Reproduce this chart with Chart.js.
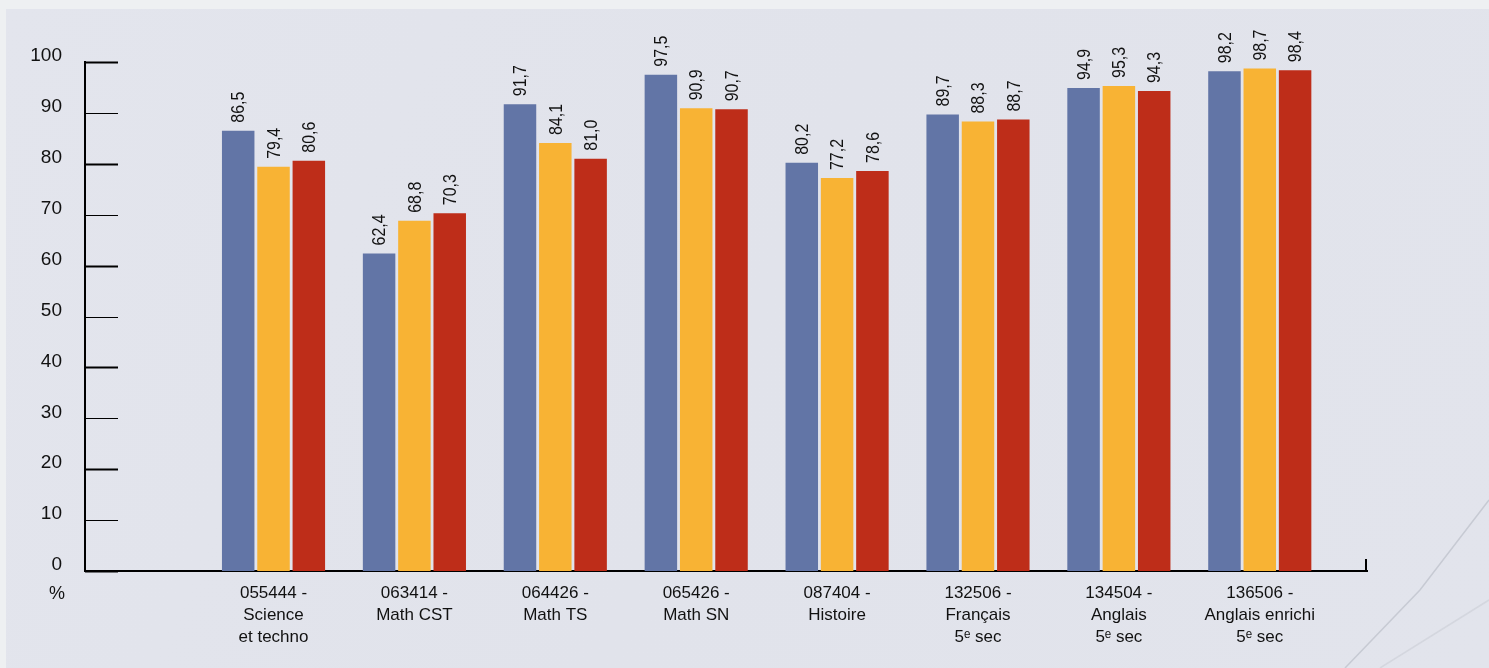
<!DOCTYPE html>
<html>
<head>
<meta charset="utf-8">
<script src="https://cdn.jsdelivr.net/npm/chart.js@4/dist/chart.umd.min.js"></script>
<style>
  html, body { margin: 0; padding: 0; background: #eceef1; overflow: hidden; }
  canvas { display: block; }
</style>
</head>
<body>
<canvas id="c" width="1489" height="668"></canvas>
<script>
// ---- Data ----
const categories = [
  ["055444 -", "Science", "et techno"],
  ["063414 -", "Math CST"],
  ["064426 -", "Math TS"],
  ["065426 -", "Math SN"],
  ["087404 -", "Histoire"],
  ["132506 -", "Français", "5ᵉ sec"],
  ["134504 -", "Anglais", "5ᵉ sec"],
  ["136506 -", "Anglais enrichi", "5ᵉ sec"]
];
const seriesBlue   = [86.5, 62.4, 91.7, 97.5, 80.2, 89.7, 94.9, 98.2];
const seriesOrange = [79.4, 68.8, 84.1, 90.9, 77.2, 88.3, 95.3, 98.7];
const seriesRed    = [80.6, 70.3, 81.0, 90.7, 78.6, 88.7, 94.3, 98.4];
const yTicks = [0, 10, 20, 30, 40, 50, 60, 70, 80, 90, 100];
const unitLabel = "%";

// ---- Styles ----
const FONT = "'Liberation Sans Narrow', 'Arial Narrow', 'Liberation Sans', Arial, sans-serif";
const colors = ["#6275a6", "#f8b334", "#be2d19"];

const toPoints = arr => arr.map((v, i) => ({ x: i, y: v }));

const bgPlugin = {
  id: 'bg',
  beforeDraw(chart) {
    const { ctx, width, height } = chart;
    ctx.save();
    ctx.fillStyle = '#eef0f2';
    ctx.fillRect(0, 0, width, height);
    const g = ctx.createLinearGradient(0, 0, width, height);
    g.addColorStop(0, '#e3e5ed');
    g.addColorStop(0.5, '#e1e3eb');
    g.addColorStop(1, '#e2e4ec');
    ctx.fillStyle = g;
    ctx.fillRect(6, 9, width - 6, height - 9);
    ctx.strokeStyle = 'rgba(150,155,165,0.35)';
    ctx.lineWidth = 1.5;
    ctx.beginPath();
    ctx.moveTo(1345, 668); ctx.lineTo(1420, 590); ctx.lineTo(1489, 500);
    ctx.stroke();
    ctx.strokeStyle = 'rgba(170,175,185,0.25)';
    ctx.beginPath();
    ctx.moveTo(1380, 668); ctx.lineTo(1489, 600);
    ctx.stroke();
    ctx.restore();
  }
};

const axisPlugin = {
  id: 'axisDecor',
  afterDraw(chart) {
    const { ctx } = chart;
    const y = chart.scales.y, x = chart.scales.x;
    ctx.save();
    ctx.strokeStyle = '#000';
    yTicks.forEach(v => {
      const py = Math.round(y.getPixelForValue(v)) + 0.5;
      ctx.lineWidth = (v % 20 === 0) ? 2.2 : 1.2;
      ctx.beginPath();
      ctx.moveTo(x.left, py);
      ctx.lineTo(x.left + 33, py);
      ctx.stroke();
    });
    const by = y.getPixelForValue(0);
    ctx.lineWidth = 2;
    ctx.beginPath();
    ctx.moveTo(x.right - 1, by + 1);
    ctx.lineTo(x.right - 1, by - 12);
    ctx.stroke();
    ctx.fillStyle = '#111';
    ctx.font = '18px ' + FONT;
    ctx.textAlign = 'right';
    ctx.textBaseline = 'middle';
    ctx.fillText(unitLabel, y.right - 20, by + 23);
    ctx.restore();
  }
};

const valueLabelPlugin = {
  id: 'valueLabels',
  afterDatasetsDraw(chart) {
    const { ctx } = chart;
    ctx.save();
    ctx.fillStyle = '#111';
    ctx.font = '19px ' + FONT;
    ctx.textAlign = 'left';
    ctx.textBaseline = 'middle';
    chart.data.datasets.forEach((ds, di) => {
      const meta = chart.getDatasetMeta(di);
      meta.data.forEach((bar, i) => {
        const txt = ds.data[i].y.toFixed(1).replace('.', ',');
        ctx.save();
        ctx.translate(bar.x + 1, bar.y - 8);
        ctx.rotate(-Math.PI / 2);
        ctx.scale(0.84, 1);
        ctx.fillText(txt, 0, 0);
        ctx.restore();
      });
    });
    ctx.restore();
  }
};

new Chart(document.getElementById('c'), {
  type: 'bar',
  data: {
    datasets: [
      { data: toPoints(seriesBlue), backgroundColor: colors[0] },
      { data: toPoints(seriesOrange), backgroundColor: colors[1] },
      { data: toPoints(seriesRed), backgroundColor: colors[2] }
    ]
  },
  options: {
    responsive: false,
    animation: false,
    devicePixelRatio: 1,
    layout: { padding: { left: 0, top: 62, right: 122, bottom: 0 } },
    plugins: { legend: { display: false }, tooltip: { enabled: false } },
    datasets: { bar: { categoryPercentage: 0.752, barPercentage: 0.92 } },
    scales: {
      x: {
        type: 'linear',
        offset: false,
        min: -1.338,
        max: 7.761,
        afterBuildTicks: s => { s.ticks = categories.map((_, i) => ({ value: i })); },
        afterFit: s => { s.height = 97; },
        grid: { display: false, drawTicks: false, offset: false },
        border: { display: true, color: '#000', width: 2 },
        ticks: {
          autoSkip: false,
          maxRotation: 0,
          minRotation: 0,
          padding: 11,
          color: '#111',
          font: { family: FONT, size: 17, lineHeight: '22px' },
          callback: v => categories[v]
        }
      },
      y: {
        min: 0,
        max: 100,
        afterBuildTicks: s => { s.ticks = yTicks.map(v => ({ value: v })); },
        afterFit: s => { s.width = 85; },
        grid: { display: false, drawTicks: false },
        border: { display: true, color: '#000', width: 2 },
        ticks: {
          padding: 23,
          color: '#111',
          font: { family: FONT, size: 19, lineHeight: '12px' },
          callback: v => [String(v), '']
        }
      }
    }
  },
  plugins: [bgPlugin, axisPlugin, valueLabelPlugin]
});
</script>
</body>
</html>
